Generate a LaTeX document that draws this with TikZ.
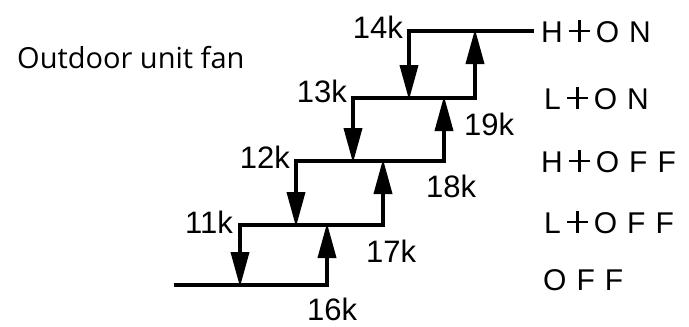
\documentclass[tikz,border=0pt]{standalone}
\usepackage{fontspec}
\setmainfont{Liberation Sans}
\newfontfamily\titlefont{Open Sans}
\newcommand\bigplus{\makebox[21pt][l]{\rule[9.8pt]{21pt}{2.4pt}\hspace{-11.7pt}\rule{2.4pt}{22pt}}}
\newcommand\gp{\hspace{6pt}}
\newcommand\gl{\hspace{10pt}}
\usetikzlibrary{arrows.meta}
\begin{document}
\begin{tikzpicture}[x=1pt,y=-1pt,
  ln/.style={line width=3.8pt,line cap=rect,line join=miter},
  arr/.style={ln,shorten >=-2pt,-{Triangle[length=35pt,width=18pt]}},
  lbl/.style={inner sep=0pt,anchor=base east,font=\fontsize{31}{36}\selectfont},
  rlbl/.style={inner sep=0pt,anchor=base west,font=\fontsize{30}{36}\selectfont}]
\useasboundingbox (0,0) rectangle (689,327);
% level coordinates
\coordinate (a0) at (176,285); \coordinate (b0) at (327,285);
\coordinate (a1) at (240,225); \coordinate (b1) at (383,225);
\coordinate (a2) at (296,161); \coordinate (b2) at (444,161);
\coordinate (a3) at (353,98);  \coordinate (b3) at (475,98);
\coordinate (a4) at (409,31);  \coordinate (b4) at (532,31);
% horizontal lines
\draw[ln] (a0) -- (b0);
\draw[ln] (a1) -- (b1);
\draw[ln] (a2) -- (b2);
\draw[ln] (a3) -- (b3);
\draw[ln] (a4) -- (b4);
% downward (falling) transitions
\draw[arr] (a4) -- (a4 |- a3);
\draw[arr] (a3) -- (a3 |- a2);
\draw[arr] (a2) -- (a2 |- a1);
\draw[arr] (a1) -- (a1 |- a0);
% upward (rising) transitions
\draw[arr] (b0) -- (b0 |- a1);
\draw[arr] (b1) -- (b1 |- a2);
\draw[arr] (b2) -- (b2 |- a3);
\draw[arr] (b3) -- (b3 |- a4);
% title
\node[inner sep=0pt,anchor=base west,font=\titlefont\fontsize{29}{34}\selectfont] (title) at (17,68) {Outdoor unit fan};
% falling thresholds
\node[lbl] (k14) at (403,38) {14k};
\node[lbl] (k13) at (347,102) {13k};
\node[lbl] (k12) at (290,168) {12k};
\node[lbl] (k11) at (233,233) {11k};
% rising thresholds
\node[lbl,anchor=base west] (k16) at (307,320) {16k};
\node[lbl,anchor=base west] (k17) at (366,262) {17k};
\node[lbl,anchor=base west] (k18) at (426,197) {18k};
\node[lbl,anchor=base west] (k19) at (464,135) {19k};
% states
\node[rlbl] (s4) at (541,42)  {H\gp\bigplus\gp O\gl N};
\node[rlbl] (s3) at (544,109) {L\gp\bigplus\gp O\gl N};
\node[rlbl] (s2) at (541,172) {H\gp\bigplus\gp O\gl F\gl F};
\node[rlbl] (s1) at (544,233) {L\gp\bigplus\gp O\gl F\gl F};
\node[rlbl] (s0) at (543,290) {O\gl F\gl F};
\end{tikzpicture}
\end{document}
